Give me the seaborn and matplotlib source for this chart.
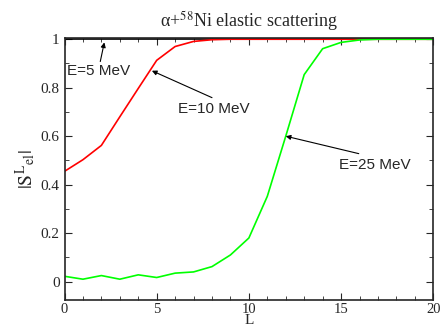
import seaborn as sns
import matplotlib.pyplot as plt
from matplotlib.ticker import MultipleLocator
import pandas as pd

# |S_el^L| for alpha + 58Ni at three energies
L = list(range(21))
s_5mev = [1.0] * 21
s_10mev = [0.455, 0.503, 0.562, 0.68, 0.797, 0.913, 0.970, 0.991, 0.998, 1.0, 1.0,
           1.0, 1.0, 1.0, 1.0, 1.0, 1.0, 1.0, 1.0, 1.0, 1.0]
s_25mev = [0.022, 0.010, 0.025, 0.010, 0.028, 0.017, 0.035, 0.040, 0.062, 0.110, 0.180,
           0.352, 0.600, 0.854, 0.961, 0.987, 0.997, 1.0, 1.0, 1.0, 1.0]

df = pd.DataFrame({'L': L, 'E5': s_5mev, 'E10': s_10mev, 'E25': s_25mev})

sns.set_style("ticks")
plt.rcParams['font.family'] = ['Liberation Serif', 'DejaVu Serif']
plt.rcParams['mathtext.fontset'] = 'stix'

fig = plt.figure(figsize=(4.43, 3.28), dpi=100)
ax = fig.add_axes([0.1456, 0.0845, 0.8324, 0.8003])

sns.lineplot(data=df, x='L', y='E5', color='black', lw=1.2, ax=ax)
sns.lineplot(data=df, x='L', y='E10', color='#ff0000', lw=1.2, ax=ax)
sns.lineplot(data=df, x='L', y='E25', color='#00ff00', lw=1.2, ax=ax)

ax.set_xlim(0, 20)
ax.set_ylim(-0.077, 1.006)
ax.xaxis.set_major_locator(MultipleLocator(5))
ax.xaxis.set_minor_locator(MultipleLocator(1))
ax.yaxis.set_major_locator(MultipleLocator(0.2))
ax.yaxis.set_minor_locator(MultipleLocator(0.1))
ax.yaxis.set_major_formatter(plt.FuncFormatter(lambda v, p: f'{v:g}'))
ax.tick_params(which='both', direction='in', top=True, right=True, labelsize=11)
ax.tick_params(axis='x', labelsize=10.5, pad=2)
ax.tick_params(which='major', length=5)
ax.tick_params(which='minor', length=3)
for s in ax.spines.values():
    s.set_linewidth(1.2)

ax.set_xlabel('L', fontsize=11)
ax.xaxis.set_label_coords(0.5, -0.054)
ax.set_ylabel(r'$|\mathrm{S}^{\mathrm{L}}{}_{\mathrm{el}}|$', fontsize=14, labelpad=2)
ax.set_title('α+$^{58}$Ni elastic scattering', fontsize=13, pad=8)

ann = dict(fontsize=11, family=['Liberation Sans', 'DejaVu Sans'])
arr = dict(arrowstyle='-|>', color='black', lw=0.8, mutation_scale=7, shrinkA=0, shrinkB=0)
ax.annotate('', xy=(2.16, 0.987), xytext=(1.94, 0.908), arrowprops=arr)
ax.text(0.14, 0.87, 'E=5 MeV', va='center', ha='left', **ann)
ax.annotate('', xy=(4.74, 0.87), xytext=(8.0, 0.759), arrowprops=arr)
ax.text(6.15, 0.713, 'E=10 MeV', va='center', ha='left', **ann)
ax.annotate('', xy=(12.0, 0.60), xytext=(15.96, 0.528), arrowprops=arr)
ax.text(14.9, 0.482, 'E=25 MeV', va='center', ha='left', **ann)

plt.savefig('out.png', dpi=100)
